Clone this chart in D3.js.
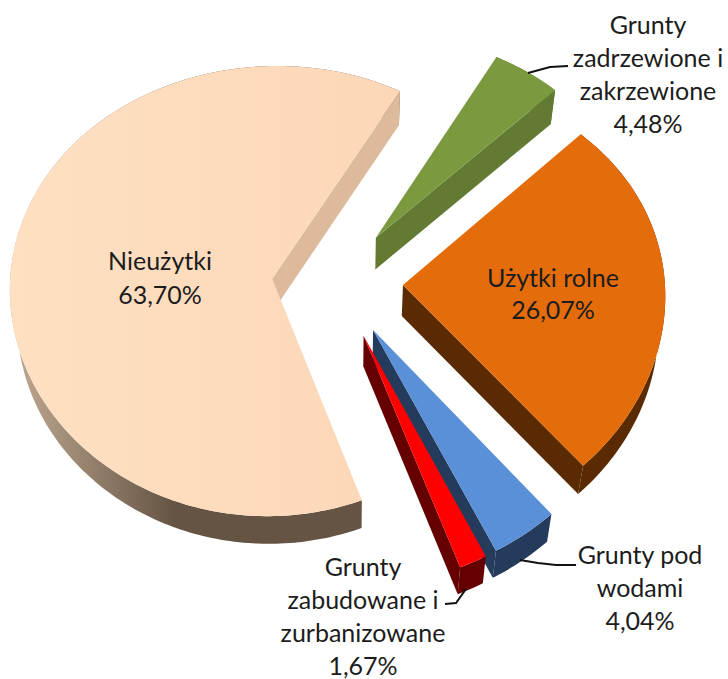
<!DOCTYPE html>
<html lang="pl">
<head>
<meta charset="utf-8">
<script src="https://cdnjs.cloudflare.com/ajax/libs/d3/7.8.5/d3.min.js"></script>
<style>
html,body{margin:0;padding:0;background:#fff;}
svg{display:block;}
text{font-family:Lato,"Open Sans",sans-serif;fill:#1c1c1c;text-anchor:middle;}
</style>
</head>
<body>
<svg id="chart" width="728" height="679"></svg>
<script>
// ---- data (clockwise order, as in the source chart) ----
const categories = ["Użytki rolne", "Grunty pod wodami", "Grunty zabudowane i zurbanizowane", "Nieużytki", "Grunty zadrzewione i zakrzewione"];
const shares = [26.07, 4.04, 1.67, 63.70, 4.48];
const valueLabels = ["26,07%", "4,04%", "1,67%", "63,70%", "4,48%"];
const labelLines = [
  ["Użytki rolne"],
  ["Grunty pod", "wodami"],
  ["Grunty", "zabudowane i", "zurbanizowane"],
  ["Nieużytki"],
  ["Grunty", "zadrzewione i", "zakrzewione"]
];

// ---- layout and style ----
const topColors  = ["#E46C0A", "#5990D8", "#FF0000", "url(#mainTop)", "#7B9A40"];
const sideColors = ["#5A2B02", "#243B5C", "#660000", "#DDBA9C", "#627A31"];
const arcColors  = ["#5A2B02", "#243B5C", "#660000", "url(#mainWall)", "#627A31"];
const explosion  = [65, 63, 64, 66, 63];
const drawOrder  = [3, 4, 0, 1, 2];
const labelAnchors = [[553, 287], [640, 564], [363, 576], [160, 270], [648, 34]];
const lineGaps   = [32, 33, 33, 34, 33];
const leaders = [
  null,
  [[520, 560], [538, 563], [556, 565], [576, 565]],
  [[466, 589], [456, 603], [445, 604]],
  null,
  [[528, 73], [550, 67], [568, 66]]
];

const firstAngle = 45 * Math.PI / 180;
const centre = { x: 338, y: 283, squash: 0.9 };
const radiusX = 262, radiusY = 225;
const perspX = 0.03, perspY = 0.055, perspYRight = 0.0004;
const leanX = 0.08, growY = 0.0006;

// depth of the extrusion shrinks towards the viewer; verticals converge downward
const depthScale = d3.scaleLinear().domain([93, 557]).range([34, 27]);
const convergeScale = d3.scaleLinear().domain([350, 581]).range([0, -5]);

const svg = d3.select("#chart");
const defs = svg.append("defs");
function gradient(id, x1, x2, stops) {
  const g = defs.append("linearGradient").attr("id", id)
    .attr("gradientUnits", "userSpaceOnUse")
    .attr("x1", x1).attr("x2", x2).attr("y1", 0).attr("y2", 0);
  stops.forEach(([o, c]) => g.append("stop").attr("offset", o).attr("stop-color", c));
}
gradient("mainTop", 10, 400, [[0, "#FFE0C3"], [1, "#FBD7B7"]]);
gradient("mainWall", 15, 175, [[0, "#BFA891"], [1, "#655443"]]);

const pie = d3.pie().sort(null).value(d => d)
  .startAngle(firstAngle).endAngle(firstAngle + 2 * Math.PI);
const slices = pie(shares);
const line = d3.line().x(d => d[0]).y(d => d[1]);

function apexOf(s, i) {
  const mid = (s.startAngle + s.endAngle) / 2;
  return [centre.x + explosion[i] * Math.sin(mid),
          centre.y - explosion[i] * Math.cos(mid) * centre.squash];
}
function rimPoint(apex, a) {
  const u = Math.sin(a), v = -Math.cos(a);
  const t = perspY + perspYRight * Math.max(0, apex[0] - centre.x);
  return [apex[0] + radiusX * u / (1 - perspX * v) + leanX * (apex[0] - centre.x) * v,
          apex[1] + radiusY * v / (1 - t * v) * (1 + growY * (apex[1] - centre.y))];
}
function lower(p) {
  return [p[0] + convergeScale(p[0]), p[1] + depthScale(p[1])];
}
// a radial wall is seen only if the extrusion falls on the outer side of its edge
function wallVisible(apex, tip, inner) {
  const low = lower(tip);
  const ex = low[0] - tip[0], ey = low[1] - tip[1];
  const ax = tip[0] - apex[0], ay = tip[1] - apex[1];
  const crossE = ax * ey - ay * ex;
  const crossI = ax * (inner[1] - apex[1]) - ay * (inner[0] - apex[0]);
  return crossE * crossI < 0;
}

const step = Math.PI / 180;

drawOrder.forEach(i => {
  const s = slices[i];
  const apex = apexOf(s, i);
  const rim = d3.range(s.startAngle, s.endAngle, step).concat([s.endAngle]).map(a => rimPoint(apex, a));
  const rimLow = rim.map(lower);
  const apexLow = lower(apex);
  const n = rim.length;
  const g = svg.append("g").attr("class", "slice");

  g.append("path").attr("d", line(rim.concat(rimLow.slice().reverse())) + "Z").attr("fill", arcColors[i]);
  if (wallVisible(apex, rim[0], rim[1]))
    g.append("path").attr("d", line([apex, rim[0], rimLow[0], apexLow]) + "Z").attr("fill", sideColors[i]);
  if (wallVisible(apex, rim[n - 1], rim[n - 2]))
    g.append("path").attr("d", line([apex, rim[n - 1], rimLow[n - 1], apexLow]) + "Z").attr("fill", sideColors[i]);
  g.append("path").attr("d", line([apex].concat(rim)) + "Z").attr("fill", topColors[i]);
});

// leader lines
leaders.forEach(pts => {
  if (!pts) return;
  svg.append("path").attr("d", line(pts))
    .attr("fill", "none").attr("stroke", "#111").attr("stroke-width", 2);
});

// labels
categories.forEach((c, i) => {
  const t = svg.append("text").attr("font-size", 25).attr("aria-label", c);
  labelLines[i].concat([valueLabels[i]]).forEach((l, k) => {
    t.append("tspan")
      .attr("x", labelAnchors[i][0])
      .attr("y", labelAnchors[i][1] + k * lineGaps[i])
      .text(l);
  });
});
</script>
</body>
</html>
